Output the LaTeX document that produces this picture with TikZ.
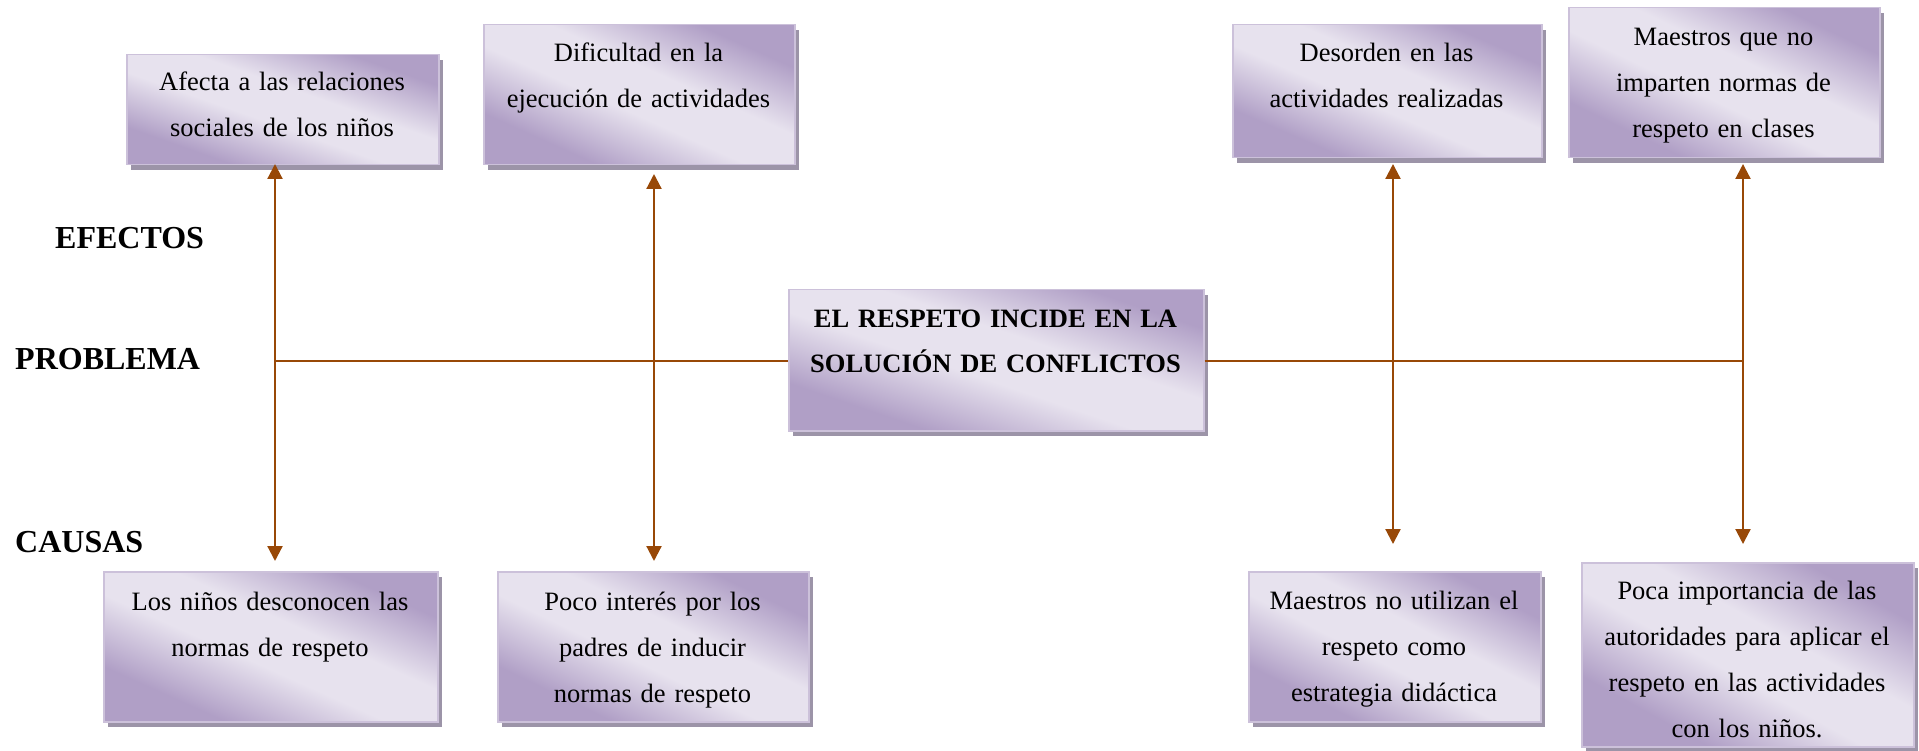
\documentclass[tikz,border=0pt]{standalone}
\usepackage{fontspec}
\setmainfont{Liberation Serif}
\usetikzlibrary{arrows.meta,shadows}
\definecolor{purpdark}{RGB}{176,159,198}
\definecolor{purplight}{RGB}{231,226,238}
\definecolor{boxline}{RGB}{204,193,218}
\definecolor{shadowc}{RGB}{156,148,168}
\definecolor{arrowc}{RGB}{152,72,7}
\pgfdeclareverticalshading{boxgrad}{100bp}{color(0bp)=(purpdark); color(29bp)=(purpdark); color(45bp)=(purplight); color(57bp)=(purplight); color(73bp)=(purpdark); color(100bp)=(purpdark)}
\newcommand\purplebox[5]{%
  \pgfmathsetmacro\myshang{-atan((#5-#3)/(#4-#2))}%
  \node[boxstyle, shading angle=\myshang, anchor=north west, minimum width={#4-#2}, minimum height={#5-#3}] (#1) at (#2,#3) {};}
\begin{document}
\begin{tikzpicture}[x=1pt,y=-1pt,
  boxstyle/.style={draw=boxline, line width=1.5pt, shading=boxgrad, inner sep=0pt,
    drop shadow={shadow xshift=4pt, shadow yshift=-5pt, fill=shadowc, opacity=1}},
  txt/.style={font=\fontsize{26.5}{46}\selectfont, align=center, inner sep=0pt, anchor=base},
  ctxt/.style={font=\bfseries\fontsize{26.5}{45}\selectfont, align=center, inner sep=0pt, anchor=base},
  lab/.style={font=\bfseries\fontsize{32}{38}\selectfont, inner sep=0pt, anchor=base west},
  conn/.style={draw=arrowc, line width=2.2pt, {Triangle[width=15pt,length=15pt]}-{Triangle[width=15pt,length=15pt]}},
  hline/.style={draw=arrowc, line width=1.6pt}
]
\useasboundingbox (0,0) rectangle (1919,751);

% boxes
\purplebox{b1}{126}{54}{438}{164}
\purplebox{b2}{483}{24}{794}{164}
\purplebox{b3}{1232}{24}{1541}{157}
\purplebox{b4}{1568}{7}{1879}{157}
\purplebox{ctr}{788}{289}{1203}{430}
\purplebox{b5}{103}{571}{437}{721}
\purplebox{b6}{497}{571}{808}{721}
\purplebox{b7}{1248}{571}{1540}{721}
\purplebox{b8}{1581}{562}{1913}{746}

% texts
\node[txt, text width=300pt] (b1t) at (282,91) {Afecta a las relaciones\\sociales de los niños};
\node[txt, text width=300pt] (b2t) at (638.5,62) {Dificultad en la\\ejecución de actividades};
\node[txt, text width=300pt] (b3t) at (1386.5,62) {Desorden en las\\actividades realizadas};
\node[txt, text width=300pt] (b4t) at (1723.5,46) {Maestros que no\\imparten normas de\\respeto en clases};
\node[ctxt, text width=405pt] (ctrt) at (995.5,327) {EL RESPETO INCIDE EN LA\\SOLUCIÓN DE CONFLICTOS};
\node[txt, text width=320pt] (b5t) at (270,610) {Los niños desconocen las\\normas de respeto};
\node[txt, text width=300pt] (b6t) at (652.5,610) {Poco interés por los\\padres de inducir\\normas de respeto};
\node[txt, text width=285pt] (b7t) at (1394,609) {Maestros no utilizan el\\respeto como\\estrategia didáctica};
\node[txt, text width=325pt] (b8t) at (1747,599) {Poca importancia de las\\autoridades para aplicar el\\respeto en las actividades\\con los niños.};

% labels
\node[lab] (efectos) at (55,249) {EFECTOS};
\node[lab] (problema) at (15,369) {PROBLEMA};
\node[lab] (causas) at (15,552) {CAUSAS};

% connectors
\coordinate (a1t) at (275,164); \coordinate (a1b) at (275,561);
\coordinate (a2t) at (654,174); \coordinate (a2b) at (654,561);
\coordinate (a3t) at (1393,164); \coordinate (a3b) at (1393,544);
\coordinate (a4t) at (1743,164); \coordinate (a4b) at (1743,544);
\coordinate (hl) at (275,361);
\coordinate (hr) at (1743,361);
\draw[hline] (hl) -- (hl -| ctr.west);
\draw[hline] (ctr.east |- hr) -- (hr);
\draw[conn] (a1t) -- (a1b);
\draw[conn] (a2t) -- (a2b);
\draw[conn] (a3t) -- (a3b);
\draw[conn] (a4t) -- (a4b);
\end{tikzpicture}
\end{document}
